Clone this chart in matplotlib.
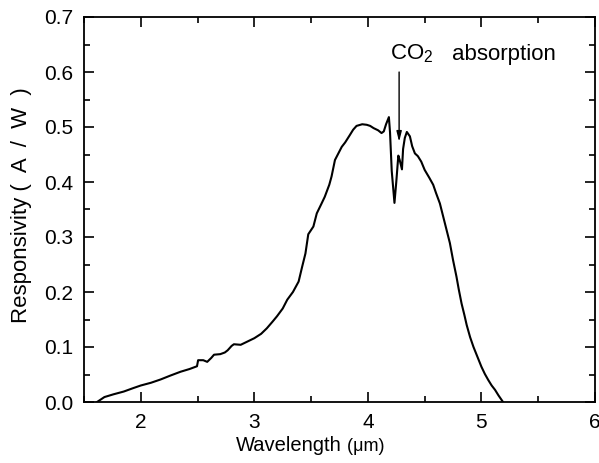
import matplotlib
matplotlib.use("Agg")
import matplotlib.pyplot as plt
from matplotlib.ticker import MultipleLocator

plt.rcParams['font.family'] = ['Liberation Sans', 'DejaVu Sans']
plt.rcParams['mathtext.fontset'] = 'custom'
plt.rcParams['mathtext.rm'] = 'Liberation Sans'
plt.rcParams['mathtext.it'] = 'Liberation Sans:italic'

wavelength = [1.615, 1.68, 1.76, 1.85, 1.93, 2.00, 2.09, 2.175, 2.26, 2.35, 2.43, 2.495,
              2.505, 2.55, 2.585, 2.62, 2.645, 2.70, 2.74, 2.765, 2.80, 2.82, 2.88, 2.94,
              3.00, 3.06, 3.11, 3.16, 3.20, 3.25, 3.29, 3.34, 3.39, 3.42, 3.45, 3.475,
              3.52, 3.55, 3.59, 3.62, 3.66, 3.68, 3.71, 3.74, 3.77, 3.80, 3.84, 3.87,
              3.90, 3.95, 3.99, 4.02, 4.05, 4.09, 4.12, 4.14, 4.16, 4.185, 4.195, 4.21,
              4.234, 4.25, 4.268, 4.28, 4.30, 4.31, 4.325, 4.343, 4.37, 4.39, 4.414, 4.44,
              4.47, 4.50, 4.54, 4.575, 4.60, 4.634, 4.678, 4.722, 4.75, 4.78, 4.80, 4.825,
              4.85, 4.87, 4.90, 4.93, 4.965, 5.00, 5.03, 5.06, 5.09, 5.12, 5.15, 5.18, 5.19]
responsivity = [0.000, 0.009, 0.014, 0.019, 0.025, 0.030, 0.035, 0.041, 0.048, 0.055, 0.060, 0.065,
                0.076, 0.076, 0.073, 0.080, 0.086, 0.087, 0.090, 0.094, 0.102, 0.105, 0.104, 0.110,
                0.116, 0.124, 0.134, 0.146, 0.156, 0.170, 0.186, 0.200, 0.219, 0.245, 0.270, 0.305,
                0.319, 0.343, 0.360, 0.373, 0.395, 0.410, 0.440, 0.452, 0.464, 0.472, 0.485, 0.495,
                0.502, 0.505, 0.504, 0.502, 0.498, 0.494, 0.489, 0.492, 0.505, 0.518, 0.49, 0.42,
                0.362, 0.40, 0.448, 0.44, 0.423, 0.46, 0.48, 0.491, 0.483, 0.465, 0.452, 0.447,
                0.437, 0.422, 0.408, 0.395, 0.380, 0.361, 0.325, 0.289, 0.258, 0.228, 0.205, 0.179,
                0.158, 0.140, 0.118, 0.100, 0.082, 0.064, 0.051, 0.040, 0.030, 0.022, 0.012, 0.003, 0.0]

x_ticks = [2, 3, 4, 5, 6]
y_ticks = [0.0, 0.1, 0.2, 0.3, 0.4, 0.5, 0.6, 0.7]

fig = plt.figure(figsize=(5.99, 4.63), dpi=100)
ax = fig.add_axes([84/599, 61/463, 511/599, 385/463])
ax.plot(wavelength, responsivity, color='black', lw=1.5)

ax.set_xlim(1.5, 6.0)
ax.set_ylim(0.0, 0.7)
ax.set_xticks(x_ticks)
ax.set_xticklabels([str(t) for t in x_ticks])
ax.set_yticks(y_ticks)
ax.set_yticklabels([f"{t:.1f}" for t in y_ticks])
ax.xaxis.set_minor_locator(MultipleLocator(0.5))
ax.yaxis.set_minor_locator(MultipleLocator(0.05))
ax.tick_params(which='both', direction='in', top=True, right=True, width=1.2, labelsize=15, colors='black')
ax.tick_params(which='major', length=7, pad=8)
ax.tick_params(which='minor', length=4)
for s in ax.spines.values():
    s.set_linewidth(1.3)

fig.text(22/599, 1 - 205/463, "Responsivity (  A  /  W  )", rotation=90,
         ha='center', va='center', fontsize=16)

t1 = fig.text(236/599, 1 - 451/463, "Wavelength", ha='left', va='baseline', fontsize=14.5)
ax.annotate(" (μm)", xy=(1.0, 0.0), xycoords=t1, va='bottom', ha='left', fontsize=13,
            annotation_clip=False)

ax.annotate("", xy=(4.275, 0.468), xytext=(4.275, 0.605),
            arrowprops=dict(arrowstyle='-|>,head_length=0.6,head_width=0.15', color='black', lw=1.0))
ax.text(4.194, 0.622, r"CO$_2$", ha='left', va='baseline', fontsize=16)
ax.text(4.739, 0.622, "absorption", ha='left', va='baseline', fontsize=16)

fig.savefig("out.png", dpi=100)
